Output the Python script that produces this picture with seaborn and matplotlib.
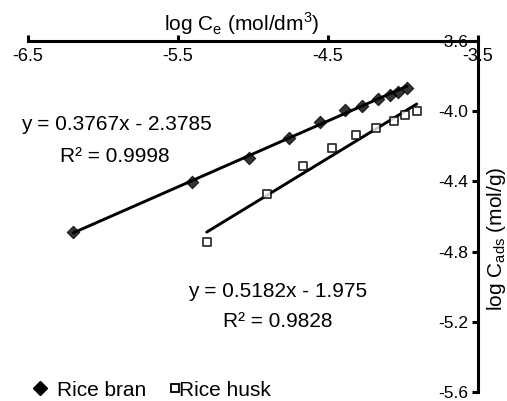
import numpy as np
import pandas as pd
import matplotlib
matplotlib.use("Agg")
import matplotlib.pyplot as plt
from matplotlib.lines import Line2D
import seaborn as sns

# ---- data ----
bran_x = [-6.196, -5.406, -5.024, -4.755, -4.550, -4.383, -4.270, -4.163, -4.083, -4.030, -3.970]
bran_y = [-4.690, -4.406, -4.265, -4.151, -4.059, -3.991, -3.968, -3.929, -3.906, -3.889, -3.866]
husk_x = [-5.306, -4.902, -4.661, -4.470, -4.310, -4.176, -4.056, -3.983, -3.905]
husk_y = [-4.743, -4.469, -4.312, -4.209, -4.137, -4.095, -4.054, -4.020, -4.001]
series_names = ["Rice bran", "Rice husk"]
eq_texts = ["y = 0.3767x - 2.3785", "y = 0.5182x - 1.975"]
r2_texts = ["R\u00b2 = 0.9998", "R\u00b2 = 0.9828"]
x_ticks = [-6.5, -5.5, -4.5, -3.5]
y_ticks = [-3.6, -4.0, -4.4, -4.8, -5.2, -5.6]

bran = pd.DataFrame({"x": bran_x, "y": bran_y})
husk = pd.DataFrame({"x": husk_x, "y": husk_y})

sns.set_theme(style="white")
plt.rcParams["font.family"] = ["Liberation Sans", "DejaVu Sans"]
plt.rcParams["mathtext.fontset"] = "custom"
plt.rcParams["mathtext.rm"] = "Liberation Sans"
for k in ["text.color", "axes.labelcolor", "xtick.color", "ytick.color"]:
    plt.rcParams[k] = "black"

fig = plt.figure(figsize=(5.07, 4.01), dpi=100)
ax = fig.add_axes([27.7 / 507, 1 - 392 / 401, (477.5 - 27.7) / 507, (392 - 41) / 401])

lw = 2.1
sns.regplot(data=bran, x="x", y="y", ax=ax, ci=None, truncate=True,
            marker="D", color="black",
            scatter_kws={"s": 40, "edgecolor": "black", "linewidths": 0.8, "zorder": 3},
            line_kws={"linewidth": lw, "zorder": 2})
sns.regplot(data=husk, x="x", y="y", ax=ax, ci=None, truncate=True,
            marker="s", color="black",
            scatter_kws={"s": 32, "facecolor": "white", "edgecolor": "black",
                         "linewidths": 1.3, "zorder": 3},
            line_kws={"linewidth": lw, "zorder": 2})

ax.set_xlim(-6.5, -3.5)
ax.set_ylim(-5.6, -3.6)

# spines: x axis along the top (y=-3.6), y axis along the right (x=-3.5)
for s in ["top", "right"]:
    ax.spines[s].set_visible(False)
ax.spines["bottom"].set_position(("data", -3.6))
ax.spines["left"].set_position(("data", -3.5))
for s in ["bottom", "left"]:
    ax.spines[s].set_linewidth(2.2)
    ax.spines[s].set_color("black")

ax.set_xticks(x_ticks)
ax.set_xticklabels([f"{v:.1f}" for v in x_ticks])
ax.set_yticks(y_ticks)
ax.set_yticklabels([f"{v:.1f}" for v in y_ticks])
ax.tick_params(axis="x", direction="in", length=4, width=2.2, pad=5,
               labelsize=13, colors="black", bottom=True)
ax.tick_params(axis="y", direction="out", length=4, width=2.2, pad=3,
               labelsize=12.5, colors="black", left=True)

ax.set_xlabel(r"log C$_\mathregular{e}$ (mol/dm$^\mathregular{3}$)", fontsize=15)
ax.xaxis.set_label_position("top")
ax.xaxis.set_label_coords(0.476, 1.05)
ax.xaxis.label.set_va("center")
ax.set_ylabel(r"log C$_\mathregular{ads}$ (mol/g)", fontsize=15)
ax.yaxis.set_label_position("right")
ax.yaxis.set_label_coords(1.043, 0.436)
ax.yaxis.label.set_va("center")
ax.yaxis.label.set_rotation(90)

ax.text(-6.545, -4.076, eq_texts[0], fontsize=15, ha="left", va="center")
ax.text(-6.285, -4.257, r2_texts[0], fontsize=15, ha="left", va="center")
ax.text(-5.431, -5.028, eq_texts[1], fontsize=15, ha="left", va="center")
ax.text(-5.197, -5.198, r2_texts[1], fontsize=15, ha="left", va="center")

h_bran = Line2D([], [], marker="D", color="black", linestyle="none", markersize=7)
h_husk = Line2D([], [], marker="s", color="black", markerfacecolor="white",
                linestyle="none", markersize=5.2, markeredgewidth=1.3)
fig.legend([h_bran], [series_names[0]], loc="center left",
           bbox_to_anchor=(33.75 / 507, 11 / 401), frameon=False, fontsize=15,
           handlelength=0.6, handletextpad=0.52, borderpad=0, borderaxespad=0)
fig.legend([h_husk], [series_names[1]], loc="center left",
           bbox_to_anchor=(170.8 / 507, 11 / 401), frameon=False, fontsize=15,
           handlelength=0.4, handletextpad=0.0, borderpad=0, borderaxespad=0)

fig.savefig("out.png", dpi=100)
